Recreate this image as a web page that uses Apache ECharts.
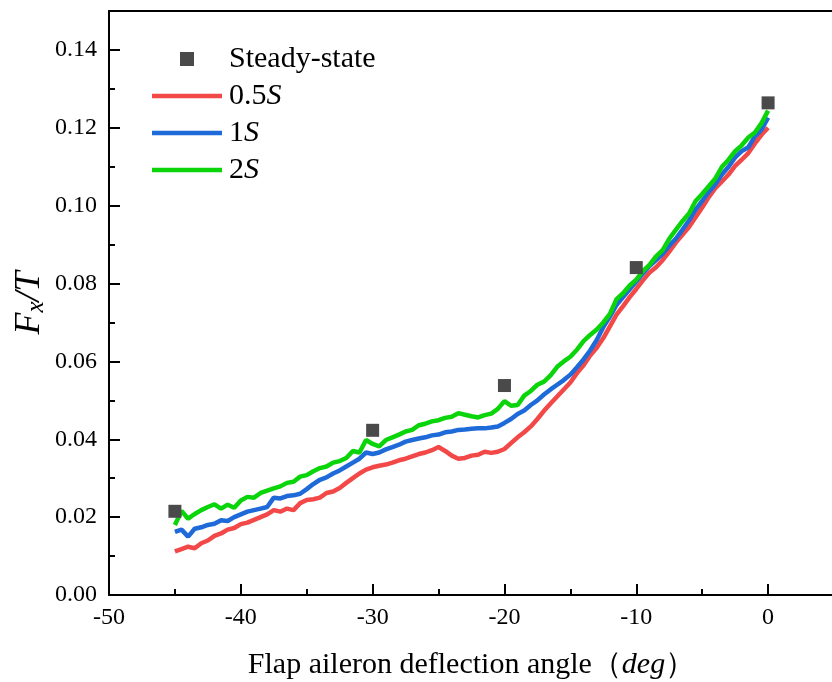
<!DOCTYPE html>
<html><head><meta charset="utf-8">
<script src="https://cdn.jsdelivr.net/npm/echarts@6/dist/echarts.min.js"></script>
<style>html,body{margin:0;padding:0;background:#fff}#c{width:832px;height:682px}</style>
</head><body><div id="c"></div>
<script>
// ---- data ----
const xs = [-45,-44.5,-44,-43.5,-43,-42.5,-42,-41.5,-41,-40.5,
-40,-39.5,-39,-38.5,-38,-37.5,-37,-36.5,-36,-35.5,
-35,-34.5,-34,-33.5,-33,-32.5,-32,-31.5,-31,-30.5,
-30,-29.5,-29,-28.5,-28,-27.5,-27,-26.5,-26,-25.5,
-25,-24.5,-24,-23.5,-23,-22.5,-22,-21.5,-21,-20.5,
-20,-19.5,-19,-18.5,-18,-17.5,-17,-16.5,-16,-15.5,
-15,-14.5,-14,-13.5,-13,-12.5,-12,-11.5,-11,-10.5,
-10,-9.5,-9,-8.5,-8,-7.5,-7,-6.5,-6,-5.5,
-5,-4.5,-4,-3.5,-3,-2.5,-2,-1.5,-1,-0.5,
0];
const red = [0.0112,0.0118,0.0124,0.0120,0.0133,0.0140,0.0152,0.0158,0.0168,0.0172,
0.0182,0.0186,0.0193,0.0200,0.0207,0.0218,0.0214,0.0222,0.0218,0.0236,
0.0244,0.0246,0.0250,0.0262,0.0266,0.0275,0.0288,0.0300,0.0312,0.0322,
0.0328,0.0332,0.0335,0.0340,0.0346,0.0350,0.0356,0.0362,0.0366,0.0372,
0.0380,0.0370,0.0358,0.0350,0.0352,0.0358,0.0360,0.0368,0.0365,0.0368,
0.0375,0.0390,0.0405,0.0418,0.0433,0.0452,0.0473,0.0492,0.0510,0.0528,
0.0546,0.0570,0.0590,0.0615,0.0635,0.0660,0.0690,0.0720,0.0742,0.0765,
0.0786,0.0808,0.0828,0.0842,0.0860,0.0882,0.0905,0.0925,0.0945,0.0970,
0.0995,0.1022,0.1045,0.1062,0.1080,0.1102,0.1118,0.1135,0.1160,0.1182,
0.1200];
const blue = [0.0162,0.0168,0.0150,0.0170,0.0174,0.0180,0.0183,0.0192,0.0190,0.0200,
0.0207,0.0214,0.0218,0.0222,0.0226,0.0250,0.0248,0.0254,0.0256,0.0260,
0.0272,0.0285,0.0296,0.0302,0.0312,0.0320,0.0330,0.0340,0.0350,0.0366,
0.0362,0.0366,0.0374,0.0380,0.0386,0.0394,0.0398,0.0402,0.0405,0.0410,
0.0412,0.0418,0.0420,0.0424,0.0425,0.0427,0.0428,0.0428,0.0430,0.0433,
0.0442,0.0452,0.0465,0.0474,0.0488,0.0500,0.0515,0.0528,0.0540,0.0552,
0.0566,0.0585,0.0605,0.0628,0.0655,0.0688,0.0715,0.0745,0.0765,0.0785,
0.0805,0.0826,0.0845,0.0860,0.0876,0.0897,0.0915,0.0938,0.0962,0.0990,
0.1012,0.1035,0.1055,0.1080,0.1100,0.1124,0.1140,0.1150,0.1178,0.1195,
0.1226];
const green = [0.0180,0.0216,0.0196,0.0208,0.0218,0.0226,0.0233,0.0222,0.0232,0.0224,
0.0243,0.0252,0.0250,0.0262,0.0268,0.0274,0.0279,0.0288,0.0291,0.0304,
0.0308,0.0318,0.0326,0.0330,0.0340,0.0344,0.0352,0.0370,0.0366,0.0398,
0.0388,0.0382,0.0398,0.0405,0.0412,0.0420,0.0424,0.0436,0.0440,0.0446,
0.0449,0.0455,0.0458,0.0467,0.0463,0.0459,0.0456,0.0462,0.0466,0.0478,
0.0498,0.0486,0.0488,0.0512,0.0524,0.0540,0.0548,0.0564,0.0586,0.0600,
0.0612,0.0630,0.0652,0.0668,0.0682,0.0700,0.0722,0.0760,0.0775,0.0795,
0.0810,0.0832,0.0848,0.0870,0.0886,0.0915,0.0938,0.0960,0.0980,0.1012,
0.1030,0.1050,0.1070,0.1100,0.1118,0.1140,0.1155,0.1175,0.1188,0.1212,
0.1244];
const steadyX = [-45, -30, -20, -10, 0];
const steadyY = [0.0215, 0.0423, 0.0538, 0.0841, 0.1264];
const xTicks = [-50, -40, -30, -20, -10, 0];
const xMinorTicks = [-45, -35, -25, -15, -5];
const yTicks = [0, 0.02, 0.04, 0.06, 0.08, 0.10, 0.12, 0.14];
const yMinorTicks = [0.01, 0.03, 0.05, 0.07, 0.09, 0.11, 0.13];
const seriesNames = ['0.5S', '1S', '2S'];
const steadyName = 'Steady-state';

// ---- chart ----
const FONT = '"Liberation Serif","Times New Roman",serif';
const chart = echarts.init(document.getElementById('c'), null, {renderer: 'canvas'});
const black = {color: '#000', width: 2};
const X = {min: -50, max: 5, type: 'value'};
const Y = {min: 0, max: 0.15, type: 'value'};
const colors = ['#f24848', '#1e6ad8', '#0ad40a'];
const lineIcon = 'path://M0,0H70V4.5H0Z';

const option = {
  animation: false,
  backgroundColor: '#fff',
  grid: {left: 109, top: 11, width: 725, height: 584, containLabel: false, outerBoundsMode: 'none'},
  xAxis: [
    Object.assign({}, X, {
      position: 'bottom',
      axisLine: {show: true, onZero: false, lineStyle: black},
      axisTick: {show: true, inside: true, length: 11, lineStyle: black, customValues: xTicks},
      axisLabel: {show: true, customValues: xTicks, fontFamily: FONT, fontSize: 24, color: '#000', margin: 11},
      splitLine: {show: false},
      name: 'Flap aileron deflection angle（{i|deg}）',
      nameLocation: 'middle', nameGap: 55,
      nameTextStyle: {fontFamily: FONT, fontSize: 30, color: '#000',
        rich: {i: {fontFamily: FONT, fontSize: 30, fontStyle: 'italic', color: '#000'}}}
    }),
    Object.assign({}, X, {
      position: 'bottom',
      axisLine: {show: false, onZero: false},
      axisTick: {show: true, inside: true, length: 6, lineStyle: black, customValues: xMinorTicks},
      axisLabel: {show: false}, splitLine: {show: false}
    }),
    Object.assign({}, X, {
      position: 'top',
      axisLine: {show: true, onZero: false, lineStyle: black},
      axisTick: {show: false}, axisLabel: {show: false}, splitLine: {show: false}
    })
  ],
  yAxis: [
    Object.assign({}, Y, {
      position: 'left',
      axisLine: {show: true, onZero: false, lineStyle: black},
      axisTick: {show: true, inside: true, length: 11, lineStyle: black, customValues: yTicks},
      axisLabel: {show: true, customValues: yTicks, fontFamily: FONT, fontSize: 24, color: '#000', margin: 12,
        formatter: v => v.toFixed(2)},
      splitLine: {show: false},
      name: '{i|F}{s|x}{i|/T}',
      nameLocation: 'middle', nameGap: 57, nameRotate: 90, nameMoveOverlap: false,
      nameTextStyle: {fontFamily: FONT, fontSize: 36, color: '#000',
        rich: {
          i: {fontFamily: FONT, fontSize: 36, fontStyle: 'italic', color: '#000', lineHeight: 44, verticalAlign: 'middle'},
          s: {fontFamily: FONT, fontSize: 25, fontStyle: 'italic', color: '#000', lineHeight: 44, verticalAlign: 'bottom', padding: [0, 0, 3, 0]}
        }}
    }),
    Object.assign({}, Y, {
      position: 'left',
      axisLine: {show: false, onZero: false},
      axisTick: {show: true, inside: true, length: 6, lineStyle: black, customValues: yMinorTicks},
      axisLabel: {show: false}, splitLine: {show: false}
    })
  ],
  legend: {
    orient: 'vertical', left: 152, top: 44, padding: 0,
    itemWidth: 70, itemHeight: 14, itemGap: 7,
    data: [{name: steadyName, icon: 'path://M0,0H10V10H0Z', itemStyle: {color: '#4a4a4a', opacity: 1}}]
      .concat(seriesNames.map(n => ({name: n, icon: lineIcon}))),
    formatter: n => n === steadyName ? n : n.replace('S', '{i|S}'),
    textStyle: {fontFamily: FONT, fontSize: 30, color: '#000', lineHeight: 30, padding: [0, 0, 0, 2],
      rich: {i: {fontFamily: FONT, fontSize: 30, fontStyle: 'italic', color: '#000', lineHeight: 30}}}
  },
  series: [
    {name: seriesNames[0], type: 'line', data: xs.map((x, i) => [x, red[i]]),
      showSymbol: false, symbol: 'none', lineStyle: {width: 4.5, color: colors[0]}, itemStyle: {color: colors[0]}, z: 2},
    {name: seriesNames[1], type: 'line', data: xs.map((x, i) => [x, blue[i]]),
      showSymbol: false, symbol: 'none', lineStyle: {width: 4.5, color: colors[1]}, itemStyle: {color: colors[1]}, z: 3},
    {name: seriesNames[2], type: 'line', data: xs.map((x, i) => [x, green[i]]),
      showSymbol: false, symbol: 'none', lineStyle: {width: 4.5, color: colors[2]}, itemStyle: {color: colors[2]}, z: 4},
    {name: steadyName, type: 'scatter', data: steadyX.map((x, i) => [x, steadyY[i]]),
      symbol: 'rect', symbolSize: 13, itemStyle: {color: '#4a4a4a', opacity: 1}, z: 5}
  ]
};
chart.setOption(option);
</script>
</body></html>
